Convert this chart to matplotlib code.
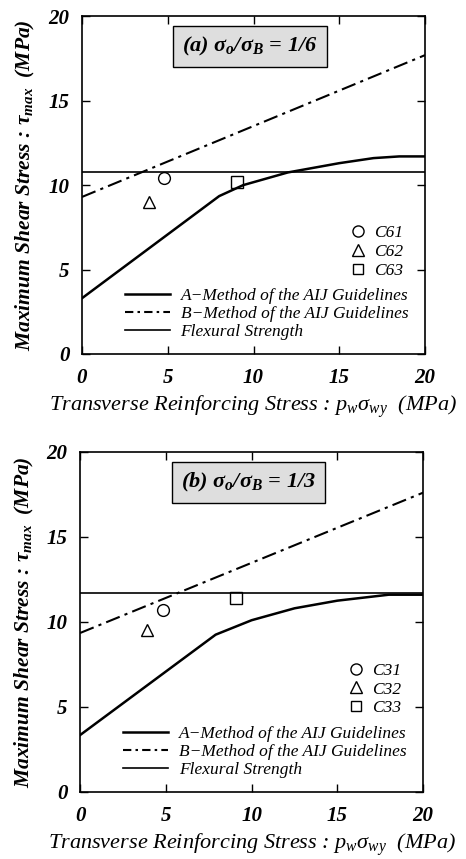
import matplotlib
matplotlib.use("Agg")
import matplotlib.pyplot as plt
from matplotlib.lines import Line2D

plt.rcParams['font.family'] = ['Liberation Serif', 'DejaVu Serif']
plt.rcParams['mathtext.fontset'] = 'custom'
plt.rcParams['mathtext.rm'] = 'Liberation Serif'
plt.rcParams['mathtext.it'] = 'Liberation Serif:italic'
plt.rcParams['mathtext.bf'] = 'Liberation Serif:bold'
plt.rcParams['mathtext.bfit'] = 'Liberation Serif:italic:bold'

# ---- data ----
xticks = [0, 5, 10, 15, 20]
yticks = [0, 5, 10, 15, 20]

# Panel (a) sigma0/sigmaB = 1/6
a_title = r"(a) $\mathbfit{\sigma_o/\sigma_B}$ = 1/6"
a_Amethod_x = [0, 8.0, 9.4, 12.0, 15.0, 17.0, 18.5, 20.0]
a_Amethod_y = [3.3, 9.35, 10.0, 10.75, 11.3, 11.6, 11.7, 11.7]
a_Bmethod_x = [0, 20]
a_Bmethod_y = [9.3, 17.7]
a_flexural = 10.8
a_spec_names = ["C61", "C62", "C63"]
a_spec_x = [4.8, 3.9, 9.05]
a_spec_y = [10.4, 9.0, 10.2]

# Panel (b) sigma0/sigmaB = 1/3
b_title = r"(b) $\mathbfit{\sigma_o/\sigma_B}$ = 1/3"
b_Amethod_x = [0, 7.9, 10.0, 12.5, 15.0, 18.0, 20.0]
b_Amethod_y = [3.35, 9.25, 10.1, 10.8, 11.25, 11.6, 11.6]
b_Bmethod_x = [0, 20]
b_Bmethod_y = [9.35, 17.6]
b_flexural = 11.7
b_spec_names = ["C31", "C32", "C33"]
b_spec_x = [4.85, 3.9, 9.1]
b_spec_y = [10.7, 9.5, 11.4]

markers = ["o", "^", "s"]
line_labels = ["A\u2212Method of the AIJ Guidelines",
               "B\u2212Method of the AIJ Guidelines",
               "Flexural Strength"]

fig = plt.figure(figsize=(4.66, 8.59), dpi=100)
ax1 = fig.add_axes([0.176, 0.588, 0.736, 0.393])
ax2 = fig.add_axes([0.172, 0.078, 0.736, 0.396])

dashdot = (0, (7, 2.5, 1.5, 2.5))


def draw(ax, title, Ax, Ay, Bx, By, flex, names, sx, sy):
    ax.plot(Ax, Ay, color='black', lw=1.8, solid_joinstyle='round')
    ax.plot(Bx, By, color='black', lw=1.5, linestyle=dashdot)
    ax.axhline(flex, color='black', lw=1.2)
    handles = []
    for n, m, x, y in zip(names, markers, sx, sy):
        ax.plot([x], [y], marker=m, ms=8.5 if m != 's' else 8, mfc='none',
                mec='black', mew=1.0, linestyle='none')
        handles.append(Line2D([], [], marker=m, ms=8 if m != 's' else 7.5,
                              mfc='none', mec='black', mew=1.0,
                              linestyle='none', label=n))
    ax.set_xlim(0, 20)
    ax.set_ylim(0, 20)
    ax.set_xticks(xticks)
    ax.set_yticks(yticks)
    ax.tick_params(direction='in', top=True, right=True, length=6,
                   width=1.0, labelsize=15)
    ax.tick_params(axis='x', pad=10)
    ax.tick_params(axis='y', pad=9)
    for lab in ax.get_xticklabels() + ax.get_yticklabels():
        lab.set_fontweight('bold')
        lab.set_fontstyle('italic')
    for s in ax.spines.values():
        s.set_linewidth(1.2)
    ax.text(9.8, 18.2, title, ha='center', va='center', fontsize=16,
            fontstyle='italic', fontweight='bold',
            bbox=dict(boxstyle='square,pad=0.4', fc='#dedede',
                      ec='black', lw=1.0))
    leg1 = ax.legend(handles=handles, loc='lower left',
                     bbox_to_anchor=(0.76, 0.197), frameon=False,
                     handlelength=0.8, handletextpad=0.5,
                     labelspacing=0.15, borderpad=0.0,
                     prop=dict(style='italic', size=12.5))
    ax.add_artist(leg1)
    lh = [Line2D([], [], color='black', lw=1.8),
          Line2D([], [], color='black', lw=1.5, linestyle=(0, (4, 2, 1.2, 2))),
          Line2D([], [], color='black', lw=1.2)]
    ax.legend(lh, line_labels, loc='lower left', bbox_to_anchor=(0.1, 0.015),
              frameon=False, handlelength=2.6, handletextpad=0.6,
              labelspacing=0.1, borderpad=0.0,
              prop=dict(style='italic', size=12.5))
    ax.set_ylabel(r"Maximum Shear Stress : $\mathbfit{\tau_{max}}$  (MPa)",
                  fontsize=15.5, fontweight='bold', fontstyle='italic',
                  labelpad=8)
    ax.set_xlabel(r"Transverse Reinforcing Stress : $p_w\sigma_{wy}$  (MPa)",
                  fontsize=16, fontstyle='italic', labelpad=4)


draw(ax1, a_title, a_Amethod_x, a_Amethod_y, a_Bmethod_x, a_Bmethod_y,
     a_flexural, a_spec_names, a_spec_x, a_spec_y)
draw(ax2, b_title, b_Amethod_x, b_Amethod_y, b_Bmethod_x, b_Bmethod_y,
     b_flexural, b_spec_names, b_spec_x, b_spec_y)

fig.savefig("out.png", dpi=100)
